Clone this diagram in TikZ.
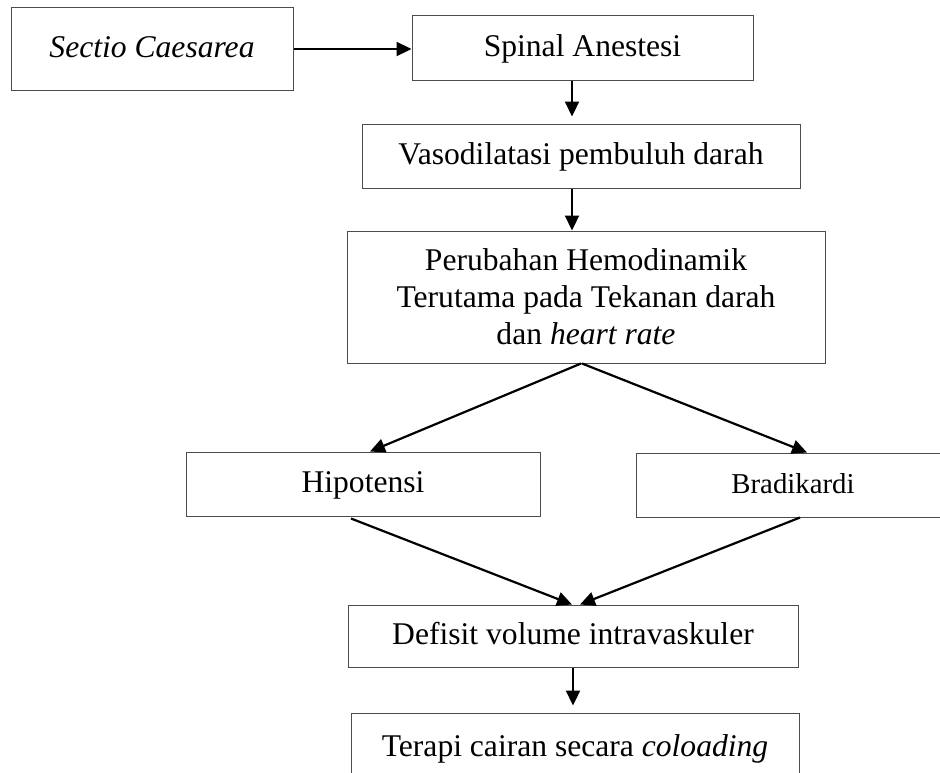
\documentclass[tikz,border=0pt]{standalone}
\usepackage{fontspec}
\setmainfont{Liberation Serif}
\usetikzlibrary{arrows.meta,calc}
\begin{document}
\begin{tikzpicture}[x=0.5pt,y=-0.5pt,
  box/.style={draw=black!70, line width=0.5pt, inner sep=0pt, align=center,
    font=\fontsize{15.8}{18.5}\selectfont, text depth=0.24em, text height=0.9em+2pt},
  arr/.style={line width=1.1pt, -{Triangle[length=7.5pt,width=7pt]}}]
\useasboundingbox (0,0) rectangle (940,772);
\clip (0,0) rectangle (940,772);
\node[box, minimum width=141pt, minimum height=41.5pt] (sectio) at (152,49) {\itshape Sectio Caesarea};
\node[box, minimum width=170.5pt, minimum height=32.5pt] (spinal) at (582.5,47.6) {Spinal Anestesi};
\node[box, minimum width=219pt, minimum height=32pt] (vaso) at (581,156) {Vasodilatasi pembuluh darah};
\node[box, minimum width=239pt, minimum height=66pt, text depth=, text height=] (perub) at (586,297) {Perubahan Hemodinamik\\Terutama pada Tekanan darah\\dan \textit{heart rate}};
\node[box, minimum width=177pt, minimum height=32pt] (hipo) at (363,484) {Hipotensi};
\node[box, minimum width=157pt, minimum height=32pt, font=\fontsize{14.4}{17}\selectfont] (brad) at (793,485) {Bradikardi};
\node[box, minimum width=225pt, minimum height=31pt] (defisit) at (573,636) {Defisit volume intravaskuler};
\node[box, minimum width=224pt, minimum height=44.5pt, text height=0.9em-7.5pt] (terapi) at (575,757.5) {Terapi cairan secara \textit{coloading}};

\draw[arr] (sectio.east) -- (sectio.east -| spinal.west);
\draw[arr, shorten >=3.5pt] ($(spinal.south)+(-10.5,0)$) -- ($(vaso.north)+(-9,0)$);
\draw[arr] ($(vaso.south)+(-9,0)$) -- ($(perub.north)+(-14,0)$);
\draw[arr] ($(perub.south)+(-5,0)$) -- ($(hipo.north)+(7,0)$);
\draw[arr] ($(perub.south)+(-4,0)$) -- ($(brad.north)+(14,0)$);
\draw[arr] ($(hipo.south)+(-12,2)$) -- ($(defisit.north)+(-1,0)$);
\draw[arr] ($(brad.south)+(7,0)$) -- ($(defisit.north)+(7,0)$);
\draw[arr, shorten >=3.5pt] (defisit.south) -- ($(terapi.north)+(-2,0)$);
\end{tikzpicture}
\end{document}
